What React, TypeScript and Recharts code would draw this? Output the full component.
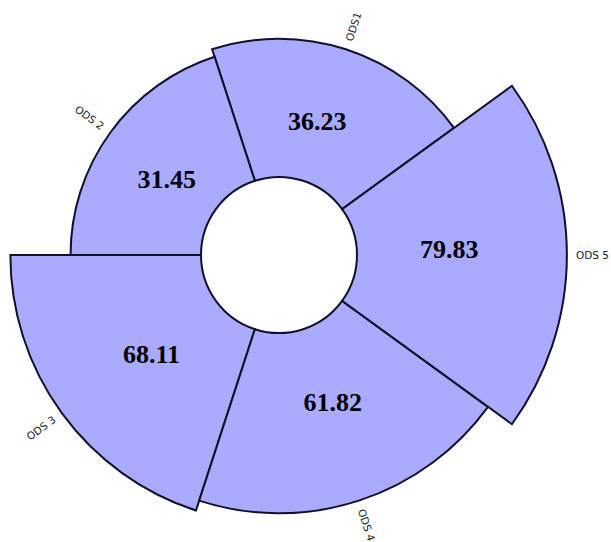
import { RadialBarChart, RadialBar, PolarAngleAxis, PolarRadiusAxis, LabelList } from 'recharts';

const categories = ['ODS1', 'ODS 2', 'ODS 3', 'ODS 4', 'ODS 5'];
const scores = [36.23, 31.45, 68.11, 61.82, 79.83];
// radial scale: bars grow from the hole edge, which sits below zero
const radiusDomain = [-48, 100];

const data = categories.map((name, i) => ({
  name,
  value: scores[i],
  range: [radiusDomain[0], scores[i]],
}));

const RAD = Math.PI / 180;

function ValueLabel(props: any) {
  const { viewBox, value } = props;
  if (!viewBox) return null;
  const { cx, cy, innerRadius, outerRadius, startAngle, endAngle } = viewBox;
  const mid = (startAngle + endAngle) / 2 + 2;
  const r = innerRadius + (outerRadius - innerRadius) * 0.44;
  const x = cx + r * Math.cos(mid * RAD);
  const y = cy - r * Math.sin(mid * RAD);
  return (
    <text x={x} y={y} textAnchor="middle" dominantBaseline="central"
      fontFamily="'Liberation Serif', serif" fontWeight="bold" fontSize={26} fill="#000">
      {Number(value).toFixed(2)}
    </text>
  );
}

function NameLabel(props: any) {
  const { viewBox, value } = props;
  if (!viewBox) return null;
  const { cx, cy, outerRadius, startAngle, endAngle } = viewBox;
  const mid = (((startAngle + endAngle) / 2) % 360 + 360) % 360;
  const flip = mid > 90 && mid < 270;
  const rot = flip ? 180 - mid : -mid;
  const r = outerRadius + 9;
  const x = cx + r * Math.cos(mid * RAD);
  const y = cy - r * Math.sin(mid * RAD);
  return (
    <text x={x} y={y} transform={`rotate(${rot} ${x} ${y})`}
      textAnchor={flip ? 'end' : 'start'} dominantBaseline="central"
      fontFamily="'DejaVu Sans', sans-serif" fontSize={10.5} fill="#222">
      {value}
    </text>
  );
}

export default function App() {
  return (
    <div style={{ position: 'absolute', left: 0, top: 0, background: '#fff' }}>
      <RadialBarChart width={611} height={542} data={data} layout="centric"
        cx={279} cy={255} innerRadius={78} outerRadius={321}
        startAngle={108} endAngle={468} barCategoryGap={0}
        margin={{ top: 0, right: 0, bottom: 0, left: 0 }}>
        <PolarAngleAxis type="category" dataKey="name" tick={false} axisLine={false} tickLine={false} />
        <PolarRadiusAxis type="number" domain={radiusDomain} tick={false} axisLine={false} tickLine={false} />
        <RadialBar dataKey="range" fill="#aaaaff" stroke="#10102a" strokeWidth={2}
          isAnimationActive={false}>
          <LabelList dataKey="value" content={ValueLabel} />
          <LabelList dataKey="name" content={NameLabel} />
        </RadialBar>
      </RadialBarChart>
    </div>
  );
}
